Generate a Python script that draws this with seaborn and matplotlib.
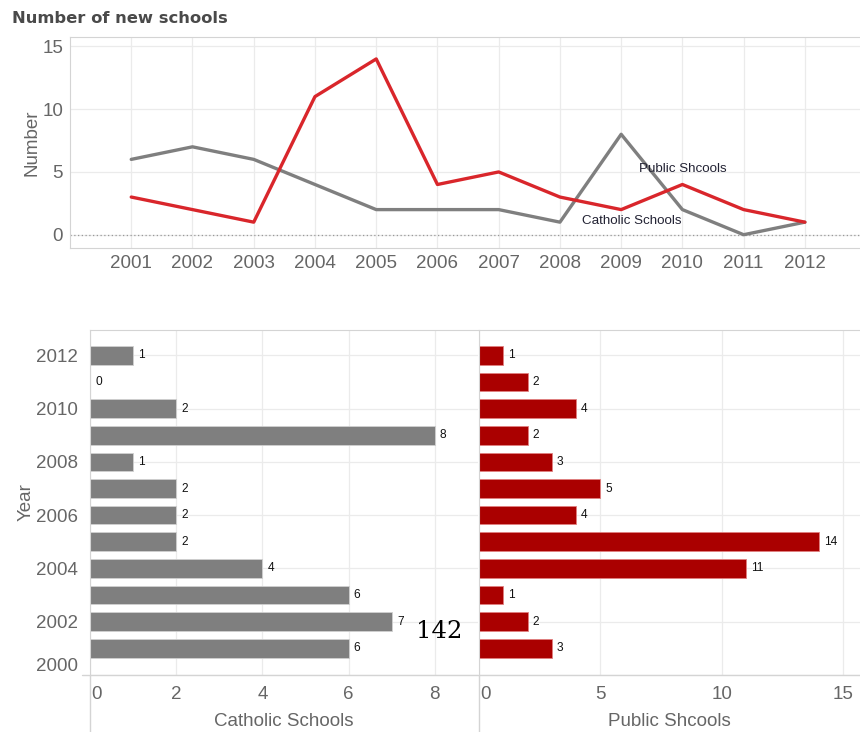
import matplotlib
matplotlib.use("Agg")
import matplotlib.pyplot as plt
from matplotlib.lines import Line2D
from matplotlib.transforms import ScaledTranslation
import numpy as np
import pandas as pd
import seaborn as sns

# data
years = [2001, 2002, 2003, 2004, 2005, 2006, 2007, 2008, 2009, 2010, 2011, 2012]
catholic = [6, 7, 6, 4, 2, 2, 2, 1, 8, 2, 0, 1]
public = [3, 2, 1, 11, 14, 4, 5, 3, 2, 4, 2, 1]

df = pd.DataFrame({'Year': years, 'Catholic Schools': catholic, 'Public Shcools': public})
long = df.melt(id_vars='Year', var_name='Type', value_name='Number')

sns.set_style('whitegrid')
plt.rcParams['font.family'] = ['Liberation Sans', 'DejaVu Sans']

grid_c = '#ebebeb'
spine_c = '#d4d4d4'
tick_c = '#666666'
red_line = '#d9262b'
gray_line = '#7f7f7f'
red_bar = '#aa0000'
gray_bar = '#7f7f7f'
fs = 13.5

fig = plt.figure(figsize=(8.6, 7.32), dpi=100)
ax1 = fig.add_axes([0.0814, 0.661, 0.9186, 0.2885])
ax2 = fig.add_axes([0.1047, 0.078, 0.451, 0.471])
ax3 = fig.add_axes([0.557, 0.078, 0.443, 0.471])

# ---- top line chart
sns.lineplot(data=long, x='Year', y='Number', hue='Type',
             palette={'Catholic Schools': gray_line, 'Public Shcools': red_line},
             linewidth=2.4, legend=False, ax=ax1)
ax1.set_xlim(2000, 2012.9)
ax1.set_ylim(-1.07, 15.75)
ax1.set_xticks(years)
ax1.set_yticks([0, 5, 10, 15])
ax1.axhline(0, color='#999999', lw=0.9, ls=(0, (1, 2)), zorder=1)
ax1.text(2010.0, 5.2, 'Public Shcools', fontsize=9.6, color='#222233', ha='center', va='center')
ax1.text(2009.17, 1.1, 'Catholic Schools', fontsize=9.6, color='#222233', ha='center', va='center')
ax1.set_xlabel('')
ax1.set_ylabel('Number', fontsize=fs, color=tick_c, labelpad=1)
fig.text(0.014, 0.975, 'Number of new schools', fontsize=11.8, fontweight='bold',
         color='#4a4a4a', family='DejaVu Sans', va='center')

# ---- bottom bar charts
sns.barplot(data=df, x='Catholic Schools', y='Year', orient='h', native_scale=True,
            color=gray_bar, width=0.7, saturation=1, edgecolor='#d0d0d0', linewidth=0.6, ax=ax2)
sns.barplot(data=df, x='Public Shcools', y='Year', orient='h', native_scale=True,
            color=red_bar, width=0.7, saturation=1, edgecolor='#e08080', linewidth=0.6, ax=ax3)

for ax, vals, off in [(ax2, catholic, 0.12), (ax3, public, 0.2)]:
    for y, v in zip(years, vals):
        ax.text(v + off, y, str(v), fontsize=8.6, color='#111111', va='center', ha='left')

ax2.set_xlim(0, 9.0)
ax3.set_xlim(0, 15.7)
ax2.set_xticks([0, 2, 4, 6, 8])
ax3.set_xticks([0, 5, 10, 15])
for ax in (ax2, ax3):
    ax.set_ylim(2000, 2012.95)
    ax.set_yticks([2000, 2002, 2004, 2006, 2008, 2010, 2012])
ax2.set_yticklabels(['2000', '2002', '2004', '2006', '2008', '2010', '2012'])
ax2.get_yticklabels()[0].set_va('bottom')
ax3.set_yticklabels([])
ax3.set_ylabel('')
ax3.tick_params(axis='y', length=0)
ax2.set_ylabel('Year', fontsize=fs, color=tick_c, labelpad=1)
ax2.set_xlabel('Catholic Schools', fontsize=fs, color=tick_c, labelpad=7)
ax3.set_xlabel('Public Shcools', fontsize=fs, color=tick_c, labelpad=7)

for ax in (ax1, ax2, ax3):
    ax.grid(True, color=grid_c, lw=0.9)
    ax.set_axisbelow(True)
    ax.tick_params(labelsize=fs, colors=tick_c, length=0, pad=5)
    for s in ax.spines.values():
        s.set_visible(False)
    ax.spines['left'].set_visible(True)
    ax.spines['left'].set_color(spine_c)
    ax.spines['top'].set_visible(True)
    ax.spines['top'].set_color(spine_c)
for ax in (ax2, ax3):
    ax.tick_params(axis='x', pad=8)
ax1.spines['bottom'].set_visible(True)
ax1.spines['bottom'].set_color(spine_c)
ax2.tick_params(axis='y', length=4, color=spine_c)

# zero labels of the bar axes sit right of the axis line, as in Tableau
for ax in (ax2, ax3):
    lab = ax.get_xticklabels()[0]
    lab.set_ha('left')
    lab.set_transform(lab.get_transform() + ScaledTranslation(0.015, 0, fig.dpi_scale_trans))

# Tableau-style axis area rules
fig.add_artist(Line2D([0.105, 0.105], [0.0, 0.078], color=spine_c, lw=1))
fig.add_artist(Line2D([0.557, 0.557], [0.0, 0.078], color=spine_c, lw=1))
fig.add_artist(Line2D([0.095, 1.0], [0.078, 0.078], color=spine_c, lw=1))

fig.text(0.511, 0.137, '142', fontsize=17.5, family='DejaVu Serif', color='black',
         ha='center', va='center')

plt.savefig('out.png', dpi=100)
